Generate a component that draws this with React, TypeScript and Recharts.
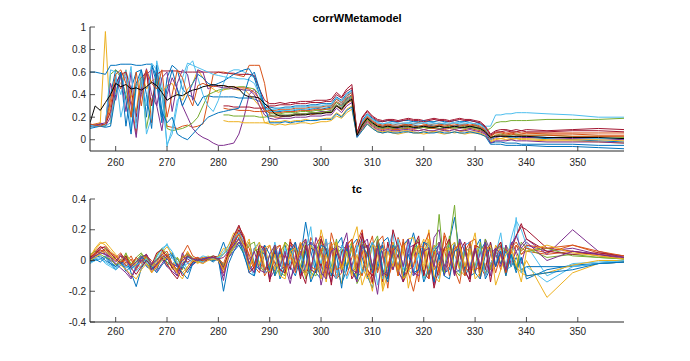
import React from 'react';
import { LineChart, Line, XAxis, YAxis } from 'recharts';

const N = null;

const xs = [
  255, 256, 257, 258, 259, 260, 261, 262, 263, 264,
  265, 266, 267, 268, 269, 270, 271, 272, 273, 274,
  275, 276, 277, 278, 279, 280, 281, 282, 283, 284,
  285, 286, 287, 288, 289, 290, 291, 292, 293, 294,
  295, 296, 297, 298, 299, 300, 301, 302, 303, 304,
  305, 306, 307, 308, 309, 310, 311, 312, 313, 314,
  315, 316, 317, 318, 319, 320, 321, 322, 323, 324,
  325, 326, 327, 328, 329, 330, 331, 332, 333, 334,
  335, 336, 337, 338, 339, 340, 344, 349, 354, 359,
];

const xTicks = [260, 270, 280, 290, 300, 310, 320, 330, 340, 350];
const cwTicks = [0, 0.2, 0.4, 0.6, 0.8, 1];
const tcTicks = [-0.4, -0.2, 0, 0.2, 0.4];

const matlabColors = ['#0072BD', '#D95319', '#EDB120', '#7E2F8E', '#77AC30', '#4DBEEE', '#A2142F'];

// corrWMetamodel, values in hundredths
const cw1 = [
  12, 13, 12, 14, 40, 62, 58, 12, 45, 60,
  62, 20, 66, 50, 15, 55, 66, 62, 45, 40,
  38, 30, 38, 39, 38, 38, 38, 38, 38, 37,
  37, 37, 36, 34, 30, 26, 25, 25, 26, 25,
  26, 27, 26, 27, 28, 27, 28, 29, 33, 30,
  36, 39, 5, 14, 20, 16, 13, 12, 13, 12,
  12, 13, 14, 13, 12, 12, 13, 12, 13, 14,
  13, 12, 13, 13, 12, 13, 11, 8, 1, 3,
  4, 3, 3, 2, 3, 2, 1, 0, -1, -2,
];
const cw2 = [
  13, 14, 15, 13, 30, 55, 45, 60, 35, 5,
  50, 62, 15, 60, 40, 12, 11, 10, 12, 13,
  11, 12, 14, 35, 58, 60, 60, 59, 58, 57,
  56, 66, 66, 66, 50, 22, 20, 20, 21, 21,
  22, 22, 23, 22, 23, 24, 24, 24, 30, 26,
  32, 35, 4, 11, 17, 13, 10, 9, 10, 9,
  9, 10, 10, 9, 8, 9, 10, 10, 9, 9,
  10, 9, 8, 9, 10, 9, 8, 6, 3, 6,
  6, 5, 6, 5, 5, 6, 5, 5, 4, 4,
];
const cw3 = [
  12, 13, 15, 96, 14, 45, 50, 62, 40, 25,
  60, 45, 52, 55, 42, 48, 50, 40, 35, 45,
  50, 62, 55, 48, 45, 42, 44, 46, 45, 44,
  45, 40, 35, 30, 15, 14, 13, 14, 13, 14,
  14, 15, 15, 14, 15, 16, 16, 17, 21, 19,
  24, 27, 3, 8, 14, 10, 7, 6, 7, 6,
  5, 6, 7, 6, 6, 5, 6, 7, 6, 5,
  6, 7, 6, 5, 6, 6, 5, 3, -2, 0,
  1, 0, 0, 1, 0, 0, -1, -1, -2, -3,
];
const cw4 = [
  14, 12, 13, 12, 20, 48, 60, 55, 30, 2,
  45, 58, 62, 30, 8, 40, 55, 45, 30, 20,
  10, 5, 2, 0, -3, -5, -5, -4, -3, 5,
  20, 40, 45, 35, 25, 21, 21, 22, 21, 22,
  23, 23, 23, 24, 24, 25, 25, 26, 31, 28,
  34, 37, 6, 12, 18, 14, 11, 10, 11, 10,
  10, 11, 11, 10, 10, 11, 12, 11, 10, 10,
  11, 11, 10, 11, 10, 11, 9, 6, 0, 2,
  3, 2, 2, 3, 2, 2, 2, 1, 1, 0,
];
const cw5 = [
  12, 13, 12, 12, 58, 62, 55, 40, 20, 50,
  55, 10, 35, 52, 45, 10, 8, 9, 10, 12,
  15, 20, 30, 40, 42, 44, 45, 45, 46, 47,
  47, 46, 45, 40, 28, 23, 23, 23, 24, 24,
  24, 25, 25, 25, 26, 26, 27, 27, 33, 29,
  35, 38, 4, 13, 19, 15, 12, 11, 12, 11,
  11, 12, 12, 11, 12, 11, 11, 12, 12, 11,
  12, 11, 11, 12, 11, 12, 10, 7, 2, 4,
  5, 4, 4, 5, 4, 4, 4, 3, 3, 2,
];
const cw6 = [
  11, 12, 13, 12, 15, 55, 40, 62, 10, 45,
  60, 5, 20, 70, 50, -6, 10, 35, 40, 65,
  70, 55, 40, 30, 25, 35, 50, 60, 62, 62,
  60, 58, 55, 45, 30, 25, 25, 26, 26, 26,
  27, 27, 27, 28, 28, 29, 29, 30, 36, 32,
  38, 42, 5, 16, 22, 18, 15, 14, 15, 16,
  15, 14, 15, 16, 15, 15, 16, 15, 14, 15,
  16, 15, 15, 16, 15, 14, 14, 12, 12, 22,
  22, 23, 23, 24, 24, 24, 23, 22, 20, 20,
];
const cw7 = [
  13, 12, 14, 13, 25, 50, 58, 60, 45, 20,
  55, 60, 30, 58, 61, 61, 61, 61, 60, 60,
  60, 60, 60, 60, 60, 60, 59, 59, 59, 58,
  58, 58, 57, 45, 35, 32, 32, 33, 32, 33,
  33, 34, 34, 34, 35, 35, 35, 36, 42, 38,
  45, 49, 6, 20, 26, 21, 18, 17, 18, 18,
  17, 18, 19, 18, 18, 17, 18, 19, 18, 18,
  17, 18, 19, 18, 18, 17, 16, 12, 5, 8,
  9, 9, 8, 9, 8, 9, 8, 9, 10, 9,
];
const cw8 = [
  60, 60, 59, 58, 66, 66, 67, 67, 67, 66,
  66, 67, 67, 55, 20, 45, 62, 45, 30, 40,
  50, 58, 55, 50, 48, 50, 52, 55, 58, 60,
  62, 63, 55, 40, 32, 29, 28, 28, 29, 29,
  30, 30, 30, 31, 31, 32, 32, 32, 38, 35,
  41, 44, 4, 17, 23, 19, 16, 16, 17, 16,
  16, 17, 17, 16, 16, 17, 16, 16, 17, 16,
  16, 17, 16, 16, 17, 16, 14, 10, -3, -2,
  -2, -3, -3, -3, -4, -4, -4, -4, -5, -5,
];
const cw9 = [
  N, N, N, N, N, N, N, N, N, N,
  N, N, N, N, N, N, N, N, N, N,
  N, N, N, N, N, N, 28, 27, 27, 26,
  26, 26, 25, 25, 25, 26, 26, 27, 27, 27,
  28, 28, 28, 29, 29, 29, 30, 30, 36, 33,
  39, 42, 5, 15, 21, 17, 14, 13, 14, 13,
  14, 14, 13, 14, 15, 14, 13, 14, 14, 13,
  14, 14, 13, 14, 13, 14, 12, 9, 3, 6,
  7, 6, 6, 7, 6, 6, 6, 6, 6, 6,
];
const cw10 = [
  N, N, N, N, N, N, N, N, N, N,
  N, N, N, N, N, N, N, N, N, N,
  N, N, N, N, N, N, 17, 16, 16, 16,
  15, 15, 15, 15, 15, 16, 16, 16, 17, 16,
  17, 17, 18, 17, 18, 18, 19, 19, 24, 21,
  27, 30, 3, 9, 15, 11, 8, 7, 8, 7,
  7, 8, 8, 7, 6, 7, 8, 7, 7, 8,
  7, 6, 7, 8, 7, 7, 6, 4, -1, 1,
  1, 2, 1, 1, 1, 1, 0, 0, 0, -1,
];
const cw11 = [
  12, 13, 14, 15, 50, 35, 58, 25, 60, 15,
  40, 63, 40, 30, 55, 60, 25, 50, 62, 58,
  35, 62, 60, 45, 48, 47, 46, 46, 45, 45,
  44, 44, 40, 30, 22, 19, 18, 19, 19, 19,
  20, 20, 20, 21, 21, 21, 22, 22, 28, 24,
  30, 33, 3, 10, 16, 12, 9, 8, 9, 8,
  8, 9, 9, 8, 8, 9, 8, 8, 9, 8,
  8, 9, 8, 8, 9, 8, 7, 5, -3, -1,
  -1, -1, 0, -1, -1, -1, -2, -2, -2, -3,
];
const cw12 = [
  N, N, N, N, N, N, N, N, N, N,
  N, N, N, N, N, N, N, N, N, N,
  N, N, N, N, N, N, 22, 22, 21, 21,
  21, 21, 21, 20, 20, 21, 21, 22, 22, 22,
  23, 23, 23, 24, 24, 24, 25, 25, 31, 27,
  33, 36, 4, 12, 18, 14, 11, 10, 11, 10,
  11, 10, 11, 11, 10, 11, 10, 11, 10, 11,
  11, 10, 11, 10, 11, 10, 9, 8, 10, 15,
  16, 16, 17, 17, 17, 17, 18, 18, 18, 19,
];
const cw13 = [
  13, 12, 12, 13, 62, 60, 20, 40, 65, 10,
  55, 30, 68, 62, 40, -4, 5, 30, 55, 68,
  66, 64, 62, 60, 58, 57, 56, 55, 55, 54,
  54, 53, 50, 40, 28, 27, 27, 28, 28, 28,
  29, 29, 29, 30, 30, 30, 31, 31, 37, 34,
  40, 43, 5, 16, 22, 18, 15, 14, 15, 14,
  14, 15, 15, 14, 14, 15, 14, 14, 15, 14,
  14, 15, 14, 14, 15, 14, 13, 10, 0, 3,
  3, 3, 2, 3, 3, 3, 2, 2, 1, 1,
];
const cw14 = [
  N, N, N, N, N, N, N, N, N, N,
  N, N, N, N, N, N, N, N, N, N,
  N, N, N, N, N, N, 30, 30, 29, 29,
  29, 29, 28, 28, 28, 30, 30, 31, 31, 31,
  32, 32, 32, 33, 33, 33, 34, 34, 40, 37,
  43, 46, 6, 19, 25, 20, 17, 16, 17, 17,
  16, 17, 18, 17, 17, 16, 17, 18, 17, 17,
  16, 17, 18, 17, 17, 16, 15, 11, 4, 7,
  7, 8, 7, 7, 8, 7, 7, 8, 8, 7,
];
const cw15 = [
  10, 11, 12, 11, 12, 40, 60, 35, 5, 50,
  62, 40, 10, 66, 25, 15, 20, 5, 2, 0,
  5, 10, 15, 20, 22, 24, 25, 26, 27, 28,
  40, 55, 60, 45, 30, 15, 15, 15, 16, 15,
  16, 16, 17, 17, 17, 18, 18, 18, 23, 20,
  26, 29, 2, 8, 14, 10, 7, 6, 7, 6,
  6, 7, 7, 6, 6, 7, 6, 6, 7, 6,
  6, 7, 6, 6, 7, 6, 5, 3, -4, -4,
  -4, -5, -5, -5, -5, -5, -6, -6, -7, -8,
];
const cw16 = [
  14, 13, 12, 14, 35, 58, 62, 50, 20, 60,
  30, 62, 50, 45, 62, 20, 40, 62, 55, 40,
  30, 48, 50, 48, 47, 48, 48, 47, 47, 46,
  46, 45, 42, 36, 26, 24, 24, 24, 25, 25,
  25, 26, 26, 26, 27, 27, 27, 28, 34, 31,
  37, 40, 5, 14, 20, 16, 13, 12, 13, 12,
  12, 13, 13, 12, 12, 13, 12, 12, 13, 12,
  13, 12, 12, 13, 12, 13, 11, 8, 1, 4,
  4, 4, 5, 4, 4, 4, 4, 3, 3, 3,
];
const cwMean = [
  15, 30, 26, 33, 40, 50, 47, 49, 45, 46,
  44, 47, 51, 48, 42, 35, 38, 40, 39, 42,
  44, 45, 47, 48, 49, 48, 48, 47, 47, 45,
  40, 38, 38, 37, 32, 28, 23, 21, 21, 21,
  22, 22, 22, 23, 23, 23, 24, 24, 30, 27,
  33, 36, 4, 13, 19, 15, 12, 11, 12, 11,
  11, 12, 12, 11, 11, 12, 11, 11, 12, 11,
  11, 12, 11, 11, 12, 11, 10, 7, 2, 3,
  3, 3, 3, 3, 3, 3, 2, 2, 2, 1,
];

// tc, values in hundredths
const tc1 = [
  1, 2, 3, 0, -2, -6, -3, 2, -8, -17,
  -5, 0, -3, -6, 2, -4, 3, 1, -3, -8,
  -2, 0, 1, 2, 1, 3, 12, 2, 8, 15,
  3, -6, -2, 8, 5, -8, -3, 6, 10, -4,
  -10, 2, 25, 6, -8, -12, 4, 9, -5, -15,
  -6, 10, 14, 2, -10, -18, -2, 12, 15, 3,
  -8, -12, 6, 18, 4, -14, -6, 10, 2, -9,
  12, 28, 5, -10, -4, 8, 14, -12, -5, 6,
  10, -5, 3, -8, 2, -12, -6, -3, -2, -1,
];
const tc2 = [
  3, 6, 9, 8, 4, 2, 5, -2, 3, -4,
  2, 4, -8, -2, 6, 3, -5, -8, 4, 10,
  3, 1, 2, 0, 2, 1, -5, 4, 10, 18,
  12, 8, -4, -8, 4, 10, -2, -6, -8, 12,
  5, -10, -6, 15, 8, -4, -12, 18, 6, -4,
  -10, 2, 12, 20, -5, -15, 8, 10, -12, -2,
  15, 6, -8, -20, -4, 10, 12, -2, -10, 18,
  8, -6, -15, 6, 12, 14, -4, -10, -2, 4,
  -6, 8, -4, 10, 4, 6, 4, 6, 3, 1,
];
const tc3 = [
  2, 8, 12, 10, 6, 3, -2, 4, 0, -3,
  -4, 2, -6, 4, 8, -3, -6, 2, -2, 6,
  0, -2, 1, 3, 0, 2, 8, 6, 14, 20,
  8, 14, -6, -2, 10, -4, -8, 4, 12, 2,
  -6, 10, 8, -12, -4, 20, 6, -8, -4, -15,
  6, 12, 22, -4, -12, -6, 10, -20, -8, 5,
  -10, 8, 14, 15, -8, -2, 20, -12, -4, 6,
  12, 4, -6, -10, 6, 18, -8, -2, -6, 10,
  4, -10, 6, -4, -8, 0, -24, -8, -2, -1,
];
const tc4 = [
  0, 4, 7, 5, 2, -3, 1, -6, -11, -4,
  1, 3, -4, -7, -2, 3, -4, -10, 5, -2,
  -3, 0, -2, 1, 2, 0, -13, 6, 10, 18,
  15, -2, -8, 4, 10, -12, -6, 8, -4, -15,
  2, 12, -6, -8, 15, 6, -4, -14, 10, 8,
  18, -8, -12, 6, 10, -6, 14, 4, -10, 12,
  -6, -14, 8, 10, -4, 6, -10, 15, 20, -8,
  -4, 10, 4, -8, -12, 8, -6, 14, 6, -4,
  10, -6, 12, 6, -2, 10, 6, 8, 4, 1,
];
const tc5 = [
  4, 6, 5, 8, 3, 1, -2, 5, -4, 2,
  5, -2, -5, 3, 8, 4, -3, 2, -6, 4,
  2, -1, 0, 2, 3, 1, 4, 8, 12, 10,
  5, 10, 12, -3, -8, 4, -10, -4, 12, 8,
  -6, 10, -12, -4, 6, 14, -8, -10, 4, 8,
  -4, 12, -15, -8, 6, 10, 16, -6, -10, 4,
  8, -12, -6, 6, 14, -10, 8, -4, 30, -6,
  12, 36, -8, 6, -6, 8, -10, 14, -4, 8,
  -2, 10, 4, -6, 12, 8, 2, 4, 2, 1,
];
const tc6 = [
  0, 1, 2, -2, -4, -6, -3, -5, -2, -7,
  -3, 2, -5, 0, 6, 11, 2, -4, 0, -6,
  -1, 1, 3, 2, 0, 1, 6, 10, 16, 22,
  10, -4, -10, 6, 8, -6, 12, -2, -8, 6,
  8, -10, 6, 22, -6, -4, 10, 12, -8, 6,
  -12, -4, 8, 14, -6, 10, -16, -2, 8, 18,
  -8, 12, -6, -10, 10, 6, 12, -4, -12, 8,
  10, -6, 14, -8, -4, 6, 10, -6, 12, -2,
  8, -4, 14, 26, 20, 10, -10, -2, -1, 0,
];
const tc7 = [
  2, 5, 9, 6, 3, 0, 4, 1, -3, 2,
  -1, 4, -6, -3, 2, -2, -8, -12, -4, 3,
  0, 2, -1, 1, 3, 2, -4, 5, 12, 20,
  14, -6, 8, 4, -4, -8, 10, -10, 4, -6,
  12, -6, -15, 8, 6, -4, 14, -8, -12, 6,
  10, -4, 8, 18, -6, -10, 6, -14, 12, -6,
  4, -10, -6, 8, 16, -8, -12, 6, 10, -4,
  6, -8, 12, -6, -14, 10, 8, -6, 12, -4,
  6, -8, 10, 16, 22, 20, 8, 6, 4, 2,
];
const tc8 = [
  -1, 0, 1, 3, -1, -4, 0, -3, -5, -3,
  2, -4, -6, -2, 0, 3, 5, -3, -5, 2,
  1, -1, 2, 1, -1, 2, -6, 4, 8, 12,
  6, 12, -2, -6, 10, 4, -10, 6, -4, 8,
  -2, -6, 8, 12, -4, -10, 6, -8, 10, 15,
  -6, 8, -10, -8, 4, 12, -6, 10, -12, 6,
  -4, 10, 14, -8, -6, 8, -10, 6, 10, -8,
  -6, 12, -4, 8, -10, -8, 6, 12, -6, 4,
  -2, 6, -4, 2, -6, -4, -4, -4, -2, -1,
];
const tc9 = [
  2, 5, 7, 4, 2, 0, 3, -4, 1, -6,
  0, 3, -2, -5, 4, 6, -2, -6, 3, -1,
  1, 0, 2, 1, 2, 0, -8, 5, 14, 22,
  16, 2, -6, 8, -10, -4, 6, 10, -8, 14,
  -2, 6, -8, -6, 10, 16, -4, 8, -12, -8,
  10, 14, -4, -10, 6, 16, -8, 4, -18, 10,
  -6, 12, -4, 8, -14, 10, 18, -6, -2, 8,
  -10, 6, 12, -4, -8, 10, -12, 6, -4, 8,
  12, -4, 6, 10, 4, 8, 5, 10, 5, 2,
];
const tc10 = [
  3, 7, 11, 12, 8, 4, 0, 2, -4, -2,
  3, 1, -4, -1, 5, 9, 4, -2, -8, -4,
  0, -1, 2, 1, 0, 3, 4, 10, 18, 16,
  6, 12, -4, -2, 8, 10, -6, 4, -10, 6,
  -4, 12, -6, -10, 8, 4, -14, 10, 12, -6,
  -2, 8, -12, 10, -6, -20, 4, 8, -4, 12,
  -6, 10, -18, -2, 6, 14, -6, 10, -4, -8,
  8, 12, -6, 10, -4, -8, 6, 10, -6, 4,
  8, -6, 10, 4, -8, -10, -8, -3, 0, 0,
];
const tc11 = [
  1, 3, 5, 4, 0, -2, -5, -8, -12, -5,
  0, -3, -6, -2, 1, -4, -7, -10, -2, 1,
  -1, 0, 1, 2, 1, 0, -10, 2, 6, 12,
  8, -4, -8, 10, 6, -12, 8, -6, -4, 10,
  6, -10, -4, 12, 8, -16, -2, 6, 10, -8,
  12, -6, -14, 8, 10, -4, -22, 6, 8, -6,
  10, -4, 8, -10, -6, 12, 8, -16, 6, -10,
  4, -8, -6, 10, 12, -8, 6, -10, 4, 8,
  -4, 10, -2, 6, 10, 14, 4, 20, 6, 2,
];
const tc12 = [
  0, 3, 4, 2, 1, -3, -1, 3, -2, 0,
  4, 2, -3, 1, 3, -1, -4, -6, 2, 4,
  0, 1, -1, 2, 1, 2, -3, 3, 9, 14,
  10, -2, 6, 8, -6, -4, 10, -8, -10, 6,
  8, -4, 12, -8, -10, 6, 8, -4, 14, -6,
  6, -8, -4, 12, 8, -6, 14, -10, -4, 6,
  12, -8, -4, 6, 10, -12, -6, 8, 12, -8,
  16, -6, -10, 8, 6, -4, 12, -8, -6, 6,
  10, 6, 4, -6, 8, 6, 8, 3, 2, 1,
];
const tc13 = [
  -2, 0, 1, -1, -3, -5, -2, -4, -6, -3,
  -1, 1, -3, 2, 8, 10, 6, -1, -4, -2,
  1, 0, -1, 2, 1, 2, 4, 8, 14, 18,
  6, -4, 8, 12, -8, -6, 4, -10, 8, -2,
  10, 4, -6, -10, 8, -2, 14, -6, -12, 10,
  4, -6, 10, -8, -4, 12, 6, -12, 8, -2,
  14, -6, 10, -8, 4, -12, -4, 8, 10, -6,
  8, -4, -8, 10, 12, -6, 8, -10, -2, 4,
  18, -6, -4, 28, -8, -4, -14, -4, -2, 0,
];
const tc14 = [
  2, 4, 8, 9, 5, 1, -2, 3, -5, -9,
  -4, 0, -3, 5, 7, 2, -5, -2, -10, -6,
  -1, 1, 0, 2, 2, 1, -6, 6, 16, 23,
  14, -8, -4, 10, 8, -14, 6, -6, -8, 12,
  8, -12, 10, -6, -8, 14, 6, -16, 8, -4,
  10, -12, -6, 16, 8, -14, 10, -8, -10, 20,
  8, -14, -6, 10, 12, -10, 6, -18, -4, 8,
  14, -10, 6, 12, -12, 8, -6, 10, -14, 6,
  12, -8, 6, 16, 24, 14, 6, 4, 5, 3,
];
const tc15 = [
  0, 1, -1, 2, -2, -4, -1, -7, -4, -1,
  3, -1, -4, -8, -3, 1, 4, -4, -8, -12,
  -2, 0, 1, 1, 0, 1, -20, -2, 6, 10,
  4, -8, -10, 6, 4, -6, 8, -12, -4, 6,
  12, -8, 6, -14, -6, 10, 8, -10, 4, -18,
  8, -6, -12, 10, 4, -8, 12, -6, -14, 10,
  6, -10, 4, -8, -6, 12, 10, -14, 4, -10,
  -12, 6, 8, -6, 10, -8, -12, 4, 8, -4,
  6, -10, 4, -6, 2, -10, -8, -6, -2, -1,
];
const tc16 = [
  1, 4, 6, 7, 5, 3, -1, 1, -3, 2,
  -2, 3, 0, -4, 2, 4, -3, -7, 1, 5,
  1, 2, 0, 1, 2, 1, -2, 7, 12, 17,
  10, 4, -4, 6, -6, -2, 8, 10, -6, 4,
  -8, 10, 14, -4, -6, 8, -10, 12, -6, -4,
  10, 14, -8, 6, -10, -6, 12, 16, -4, 8,
  -10, 14, -6, -4, 10, 8, -12, 6, -8, 16,
  -4, 8, 10, -10, 12, -6, -4, 10, 6, -8,
  4, -8, 8, 12, 6, 10, 8, 10, 6, 3,
];
const tc17 = [
  0, 2, 4, 6, 3, 0, -3, -6, -9, -12,
  -6, -2, -8, -4, 0, 2, -3, -8, -12, -4,
  0, -1, -2, 0, 1, 0, -6, 3, 8, 14,
  10, -6, 6, 12, -4, -8, 4, -10, -12, 6,
  8, -4, -10, 10, 6, -12, 4, -8, 12, -6,
  6, -10, 4, -16, -6, 10, 8, -18, 6, -4,
  10, -12, -8, 4, 10, -6, 14, -10, -14, 6,
  8, -6, 10, -4, 8, -12, -8, 6, 10, -16,
  -6, 4, 8, -2, -14, 6, 10, 5, 3, 1,
];
const tc18 = [
  1, 3, 5, 4, 2, -1, 3, 0, -4, -1,
  2, 4, -2, 0, 4, 1, -2, -4, 0, 3,
  1, 0, 1, 2, 2, 1, 2, 6, 10, 14,
  8, -2, 6, -6, -8, 4, 10, -4, 6, -12,
  -4, 4, 14, -6, 10, -8, -12, 6, 8, -2,
  12, -6, -8, 10, 14, -4, 8, -10, -6, 6,
  10, -4, 14, -8, -10, 6, 8, -4, 12, -6,
  6, -10, 14, 6, -6, 8, -4, 12, -10, 8,
  4, -6, 10, 16, 8, 12, 0, 6, 4, 2,
];

const cwSeries = [cw1, cw2, cw3, cw4, cw5, cw6, cw7, cw8, cw9, cw10, cw11, cw12, cw13, cw14, cw15, cw16, cwMean];
const tcSeries = [tc1, tc2, tc3, tc4, tc5, tc6, tc7, tc8, tc9, tc10, tc11, tc12, tc13, tc14, tc15, tc16, tc17, tc18];

const axisColor = '#262626';
const font = '"Liberation Sans", Arial, Helvetica, sans-serif';

function buildRows(series: (number | null)[][]) {
  return xs.map((x, i) => {
    const row: Record<string, number | null> = { x };
    series.forEach((s, k) => {
      const v = s[i];
      row['s' + k] = v == null ? null : v / 100;
    });
    return row;
  });
}

const cwRows = buildRows(cwSeries);
const tcRows = buildRows(tcSeries);

const fmt = (v: number) => String(Math.round(v * 10) / 10);

const makeBottomTick = (gap: number) => (props: any) => {
  const { x, y, payload } = props;
  return (
    <g>
      <line x1={x} x2={x} y1={y - gap} y2={y - gap - 5} stroke={axisColor} strokeWidth={0.8} />
      <text x={x} y={y} dy="0.71em" textAnchor="middle" fontSize={10} fontFamily={font} fill={axisColor}>
        {fmt(payload.value)}
      </text>
    </g>
  );
};

const TopTick = (props: any) => {
  const { x, y } = props;
  return <line x1={x} x2={x} y1={y} y2={y + 5} stroke={axisColor} strokeWidth={0.8} />;
};

const LeftTick = (props: any) => {
  const { x, y, payload } = props;
  return (
    <g>
      <line x1={x + 4} x2={x + 9} y1={y} y2={y} stroke={axisColor} strokeWidth={0.8} />
      <text x={x} y={y} dy={3.5} textAnchor="end" fontSize={10} fontFamily={font} fill={axisColor}>
        {fmt(payload.value)}
      </text>
    </g>
  );
};

const RightTick = (props: any) => {
  const { x, y } = props;
  return <line x1={x - 5} x2={x} y1={y} y2={y} stroke={axisColor} strokeWidth={0.8} />;
};

interface PanelProps {
  rows: Record<string, number | null>[];
  count: number;
  withMean: boolean;
  yDomain: [number, number];
  yTicks: number[];
  top: number;
  height: number;
  xGap: number;
}

const Panel = ({ rows, count, withMean, yDomain, yTicks, top, height, xGap }: PanelProps) => {
  const keys = Array.from({ length: count }, (_, k) => 's' + k);
  return (
    <div style={{ position: 'absolute', left: 0, top }}>
      <LineChart width={690} height={height} data={rows} margin={{ top: 27, right: 66, bottom: 0, left: 0 }}>
        <XAxis
          xAxisId="b"
          dataKey="x"
          type="number"
          domain={[255, 359]}
          ticks={xTicks}
          interval={0}
          allowDataOverflow
          height={25}
          tickSize={0}
          tickMargin={xGap}
          tickLine={false}
          axisLine={{ stroke: axisColor }}
          tick={makeBottomTick(xGap)}
        />
        <XAxis
          xAxisId="t"
          orientation="top"
          dataKey="x"
          type="number"
          domain={[255, 359]}
          ticks={xTicks}
          interval={0}
          allowDataOverflow
          height={0}
          tickSize={0}
          tickMargin={0}
          tickLine={false}
          axisLine={{ stroke: axisColor }}
          tick={TopTick}
        />
        <YAxis
          yAxisId="l"
          type="number"
          domain={yDomain}
          ticks={yTicks}
          interval={0}
          allowDataOverflow
          width={90}
          tickSize={0}
          tickMargin={4}
          tickLine={false}
          axisLine={{ stroke: axisColor }}
          tick={LeftTick}
        />
        <YAxis
          yAxisId="r"
          orientation="right"
          type="number"
          domain={yDomain}
          ticks={yTicks}
          interval={0}
          allowDataOverflow
          width={0}
          tickSize={0}
          tickMargin={0}
          tickLine={false}
          axisLine={{ stroke: axisColor }}
          tick={RightTick}
        />
        {keys.map((key, k) => {
          const isMean = withMean && k === count - 1;
          return (
            <Line
              key={key}
              xAxisId={k === 0 ? 't' : 'b'}
              yAxisId={k === 0 ? 'r' : 'l'}
              dataKey={key}
              type="linear"
              stroke={isMean ? '#000000' : matlabColors[k % matlabColors.length]}
              strokeWidth={1}
              dot={false}
              activeDot={false}
              isAnimationActive={false}
            />
          );
        })}
      </LineChart>
    </div>
  );
};

export default function App() {
  return (
    <div style={{ position: 'absolute', left: 0, top: 0, width: 690, height: 361, background: '#ffffff' }}>
      <Panel rows={cwRows} count={cwSeries.length} withMean yDomain={[-0.1, 1]} yTicks={cwTicks} top={0} height={176} xGap={8} />
      <Panel rows={tcRows} count={tcSeries.length} withMean={false} yDomain={[-0.4, 0.4]} yTicks={tcTicks} top={172} height={175} xGap={6} />
      <svg width={690} height={361} style={{ position: 'absolute', left: 0, top: 0, pointerEvents: 'none' }}>
        <text x={357} y={22} textAnchor="middle" fontWeight="bold" fontSize={11} fontFamily={font} fill="#000">
          corrWMetamodel
        </text>
        <text x={357} y={193} textAnchor="middle" fontWeight="bold" fontSize={11} fontFamily={font} fill="#000">
          tc
        </text>
      </svg>
    </div>
  );
}
